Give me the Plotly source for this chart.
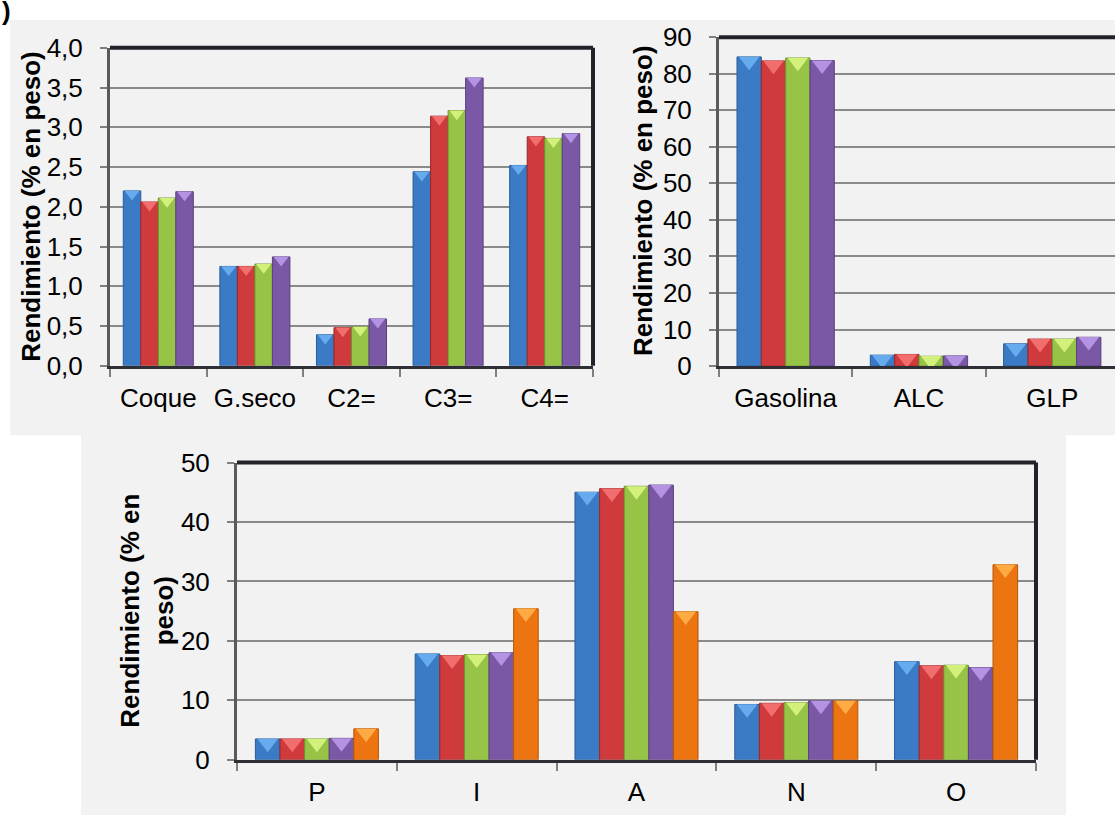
import plotly.graph_objects as go

# ---- data -------------------------------------------------------------
cats_gas = ["Coque", "G.seco", "C2=", "C3=", "C4="]
gas_s1 = [2.20, 1.25, 0.39, 2.44, 2.52]
gas_s2 = [2.06, 1.25, 0.48, 3.14, 2.88]
gas_s3 = [2.11, 1.28, 0.49, 3.21, 2.86]
gas_s4 = [2.19, 1.37, 0.59, 3.62, 2.92]

cats_liq = ["Gasolina", "ALC", "GLP"]
liq_s1 = [84.6, 3.0, 6.1]
liq_s2 = [83.5, 3.2, 7.4]
liq_s3 = [84.3, 2.7, 7.4]
liq_s4 = [83.6, 2.8, 7.9]

cats_piona = ["P", "I", "A", "N", "O"]
piona_s1 = [3.5, 17.8, 45.0, 9.3, 16.5]
piona_s2 = [3.5, 17.5, 45.6, 9.5, 15.8]
piona_s3 = [3.5, 17.7, 46.0, 9.6, 15.9]
piona_s4 = [3.6, 18.0, 46.2, 9.9, 15.5]
piona_s5 = [5.2, 25.4, 24.9, 9.9, 32.8]

# ---- style ------------------------------------------------------------
W, H = 1115, 830
FONT = "Liberation Sans, Arial, sans-serif"
FILL = ["#3b7bc6", "#cf3b3c", "#97c346", "#7b58a6", "#ec7512"]
EDGE = ["#2a5b95", "#9b2829", "#6c9330", "#59407f", "#b55608"]
CAP = ["#67abef", "#f26d6d", "#d3f07c", "#b492e4", "#ffab45"]
PANEL = "#f2f2f2"


def fx(p):
    return p / W


def fy(p):
    return 1 - p / H


fig = go.Figure()


def add_group(series, cats, xa, ya, frac, cap_size, cap_drop):
    n = len(series)
    w = frac / n
    xs = list(range(len(cats)))
    for j, vals in enumerate(series):
        off = -frac / 2 + j * w
        fig.add_trace(go.Bar(
            x=xs, y=vals, width=w, offset=off,
            marker=dict(color=FILL[j], line=dict(color=EDGE[j], width=1)),
            xaxis=xa, yaxis=ya, showlegend=False, hoverinfo="skip",
        ))
        # bevelled cap on top of each column
        fig.add_trace(go.Scatter(
            x=[x + off + w / 2 for x in xs],
            y=[v - cap_drop for v in vals],
            mode="markers",
            marker=dict(symbol="triangle-down", size=cap_size, color=CAP[j],
                        line=dict(width=0)),
            xaxis=xa, yaxis=ya, showlegend=False, hoverinfo="skip",
        ))


add_group([gas_s1, gas_s2, gas_s3, gas_s4], cats_gas, "x", "y", 0.725, 13, 3.2 / 82.5)
add_group([liq_s1, liq_s2, liq_s3, liq_s4], cats_liq, "x2", "y2", 0.73, 18, 4.5 / 3.78)
add_group([piona_s1, piona_s2, piona_s3, piona_s4, piona_s5], cats_piona, "x3", "y3",
          0.77, 18, 4.5 / 6.17)


def xaxis_cfg(cats, dom, rng):
    n = len(cats)
    return dict(
        domain=dom, range=rng, tickvals=list(range(n)), ticktext=cats,
        ticks="", showgrid=False, zeroline=False,
        showline=True, linecolor="#2e2e36", linewidth=3,
        tickfont=dict(family=FONT, size=26, color="#000"),
        ticklabelstandoff=7,
        minor=dict(tickvals=[k - 0.5 for k in range(n + 1)], ticks="outside",
                   ticklen=8, tickcolor="#7f7f7f", tickwidth=1.5, showgrid=False),
        fixedrange=True,
    )


def yaxis_cfg(dom, top, dt, fmt, anchor):
    return dict(
        domain=dom, range=[0, top], dtick=dt, tickformat=fmt, anchor=anchor,
        ticks="outside", ticklen=7, tickcolor="#7f7f7f", tickwidth=1.5,
        showgrid=True, gridcolor="#8a8a8a", gridwidth=1.5, zeroline=False,
        showline=True, linecolor="#5a5a5a", linewidth=3,
        tickfont=dict(family=FONT, size=26, color="#000"),
        ticklabelstandoff=12, fixedrange=True,
    )


fig.update_layout(
    width=W, height=H, margin=dict(l=0, r=0, t=0, b=0),
    paper_bgcolor="white", plot_bgcolor="rgba(0,0,0,0)",
    separators=",.", barmode="overlay", showlegend=False,
    xaxis=xaxis_cfg(cats_gas, [fx(110), fx(593)], [-0.5, 4.5]) | dict(anchor="y"),
    yaxis=yaxis_cfg([fy(364), fy(34)], 4, 0.5, ".1f", "x"),
    xaxis2=xaxis_cfg(cats_liq, [fx(719), 1.0], [-0.5, -0.5 + 396 / 133.3]) | dict(anchor="y2"),
    yaxis2=yaxis_cfg([fy(364.3), fy(23)], 90, 10, "d", "x2"),
    xaxis3=xaxis_cfg(cats_piona, [fx(237), fx(1036)], [-0.5, 4.5]) | dict(anchor="y3"),
    yaxis3=yaxis_cfg([fy(772.7), fy(464.3)], 50, 10, "d", "x3"),
)

shapes = [
    # panel backgrounds
    dict(type="rect", xref="paper", yref="paper", x0=fx(10), x1=1, y0=fy(436), y1=fy(5),
         fillcolor=PANEL, line=dict(width=0), layer="below"),
    dict(type="rect", xref="paper", yref="paper", x0=fx(81), x1=fx(1066), y0=0, y1=fy(436),
         fillcolor=PANEL, line=dict(width=0), layer="below"),
]
# dark frame along the top and right of each plot area
for xr, yr, right in [("x", "y", True), ("x2", "y2", False), ("x3", "y3", True)]:
    shapes.append(dict(type="line", xref=f"{xr} domain", yref=f"{yr} domain",
                       x0=0, x1=1, y0=1, y1=1, line=dict(color="#22222a", width=4)))
    if right:
        shapes.append(dict(type="line", xref=f"{xr} domain", yref=f"{yr} domain",
                           x0=1, x1=1, y0=0, y1=1, line=dict(color="#22222a", width=4)))
fig.update_layout(shapes=shapes)

ann_font = dict(family=FONT, size=26, color="#000")
fig.update_layout(annotations=[
    dict(text="<b>Rendimiento (% en peso)</b>", textangle=-90, x=fx(31), y=fy(199),
         xref="paper", yref="paper", showarrow=False, font=ann_font,
         xanchor="center", yanchor="middle"),
    dict(text="<b>Rendimiento (% en peso)</b>", textangle=-90, x=fx(643), y=fy(193),
         xref="paper", yref="paper", showarrow=False, font=ann_font,
         xanchor="center", yanchor="middle"),
    dict(text="<b>Rendimiento (% en<br>peso)</b>", textangle=-90, x=fx(147), y=fy(618),
         xref="paper", yref="paper", showarrow=False, font=ann_font,
         xanchor="center", yanchor="middle"),
    dict(text="<b>)</b>", x=fx(6), y=fy(-4), xref="paper", yref="paper",
         showarrow=False, font=ann_font, xanchor="center", yanchor="middle"),
])

fig.write_html("out.html")
